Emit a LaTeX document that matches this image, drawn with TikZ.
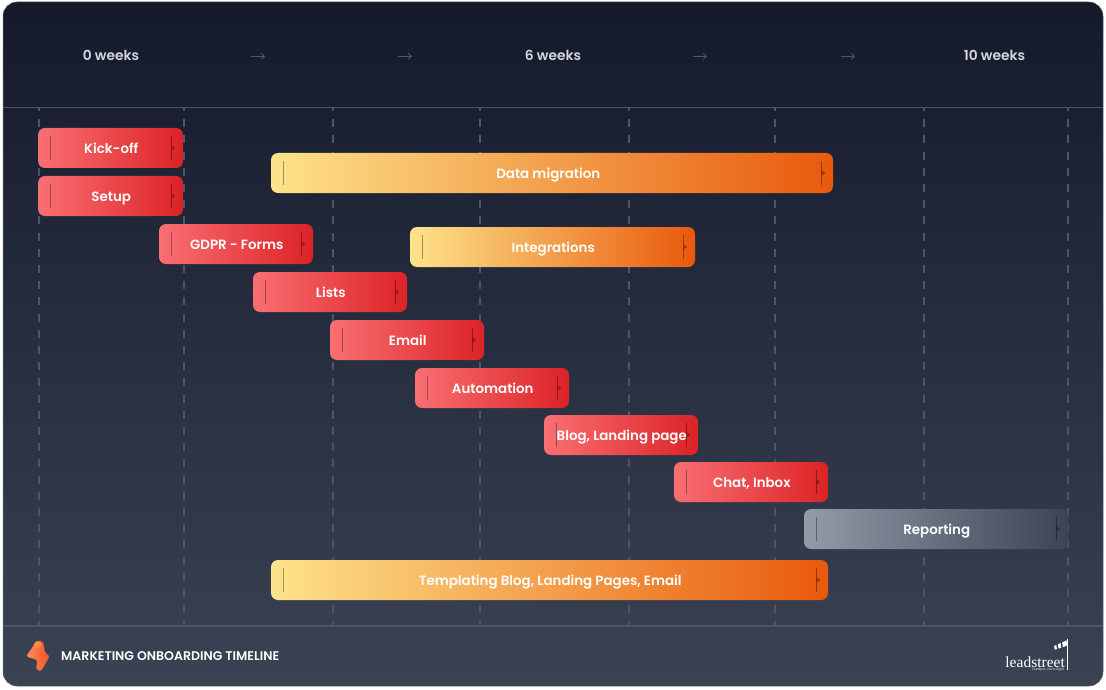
\documentclass[tikz,border=0pt]{standalone}
\usepackage{fontspec}
\usetikzlibrary{arrows.meta}
\setmainfont{Poppins}[BoldFont={Poppins SemiBold}]
\newfontfamily\brandfont{Liberation Serif}
\definecolor{cardtop}{HTML}{141A2B}
\definecolor{cardbot}{HTML}{3A4254}
\definecolor{gridcol}{HTML}{4D5669}
\definecolor{redl}{HTML}{F96F72}
\definecolor{redr}{HTML}{DC2326}
\definecolor{yell}{HTML}{FDE38A}
\definecolor{yelr}{HTML}{E9590C}
\definecolor{grayl}{HTML}{949BA8}
\definecolor{grayr}{HTML}{3B4355}
\definecolor{headcol}{HTML}{D3D6DC}
\definecolor{flashl}{HTML}{FF8E55}
\definecolor{flashr}{HTML}{F0502C}
\tikzset{
  barbox/.style={rounded corners=7pt,minimum height=40pt,inner sep=0pt,
    text height=11.5pt,text depth=0pt,
    text=white,font=\fontsize{13.4}{16}\selectfont\bfseries},
  redbar/.style={barbox,left color=redl,right color=redr},
  yelbar/.style={barbox,left color=yell,right color=yelr},
  graybar/.style={barbox,left color=grayl,right color=grayr},
  weektext/.style={text=headcol,text height=11.5pt,text depth=0pt,
    font=\fontsize{13.8}{16}\selectfont\bfseries},
  weekarrow/.style={draw=gridcol,line width=.9pt,-{Straight Barb[length=3pt,width=6pt]}},
  tickline/.style={draw=black,opacity=.35,line width=1pt}
}
\begin{document}
\begin{tikzpicture}[x=1pt,y=-1pt]
  \useasboundingbox (0,0) rectangle (1106,690);
  \fill[white] (0,0) rectangle (1106,690);
  \path[rounded corners=14pt,top color=cardtop,bottom color=cardbot,draw=black!60,line width=.5pt]
    (3,2) rectangle (1103,686);

  % grid
  \foreach \x in {39,184,333,480,629,775,924,1068} {
    \draw[gridcol,line width=1.8pt,dash pattern=on 8pt off 8.2pt,dash phase=4pt] (\x,107) -- (\x,626);
  }
  \draw[gridcol,line width=1.4pt] (3,107.5) -- (1103,107.5);
  \draw[gridcol,line width=1.4pt] (3,626) -- (1103,626);

  % header
  \node[weektext] (week0) at (111,55) {0 weeks};
  \node[weektext] (week6) at (553,55) {6 weeks};
  \node[weektext] (week10) at (994.5,55) {10 weeks};
  \foreach \x in {258,405,700,848} {
    \draw[weekarrow] (\x-7.5,56.3) -- (\x+7,56.3);
  }

  % bars: name/left/top/width/style/text
  \foreach \n/\l/\t/\w/\s/\lab in {
    kickoff/38/128/145/redbar/Kick-off,
    setup/38/176/145/redbar/Setup,
    gdpr/159/224/154/redbar/GDPR - Forms,
    lists/253/272/154/redbar/Lists,
    email/330/320/154/redbar/Email,
    automation/415/368/154/redbar/Automation,
    blog/544/415/154/redbar/{Blog, Landing page},
    chat/674/462/154/redbar/{Chat, Inbox},
    data/271/153/562/yelbar/{Data migration\hspace*{9pt}},
    integrations/410/227/285/yelbar/Integrations,
    templating/271/560/557/yelbar/{Templating Blog, Landing Pages, Email},
    reporting/804/509/264/graybar/Reporting} {
    \node[\s,minimum width=\w pt] (\n) at (\l+\w/2,\t+20) {\hspace*{1.5pt}\lab};
    \draw[tickline] ([xshift=12.5pt,yshift=-12pt]\n.west) -- ([xshift=12.5pt,yshift=12pt]\n.west);
    \draw[tickline] ([xshift=-11.7pt,yshift=-12pt]\n.east) -- ([xshift=-11.7pt,yshift=12pt]\n.east);
    \fill[black!70!red,opacity=.4] ([xshift=-11.7pt,yshift=-2.8pt]\n.east) -- ([xshift=-7.8pt]\n.east)
      -- ([xshift=-11.7pt,yshift=2.8pt]\n.east) -- cycle;
  }

  % footer
  \path[left color=flashl,right color=flashr,rounded corners=2.5pt]
    (37,640.5) -- (43,641.5) -- (45,653) -- (50,656) -- (41,671.5) -- (36,669.5) -- (37.5,660)
    -- (26,656.5) -- cycle;
  \fill[flashl!70!orange] (37.5,644.8) circle (3.6);
  \node[anchor=west,inner sep=0pt,text=white,font=\fontsize{12.55}{14}\selectfont\bfseries] (title) at (61,656)
    {MARKETING ONBOARDING TIMELINE};

  % logo
  \node[anchor=east,text=white,inner sep=0pt,font=\fontsize{15.5}{18}\selectfont\brandfont] (brand) at (1065,662)
    {leadstreet};
  \node[anchor=east,text=white!85!gray,inner sep=0pt,font=\fontsize{3.1}{4}\selectfont] (slogan) at (1065,670)
    {HubSpot. Done Right.};
  \draw[white,line width=.7pt] (1067.5,639) -- (1067.5,670);
  \fill[white] (1054,646.2) -- (1056.2,645) -- (1057,649) -- (1054.8,649.6) -- cycle;
  \fill[white] (1057.8,644.4) -- (1060.5,643) -- (1061.3,647.6) -- (1058.6,648.6) -- cycle;
  \fill[white] (1062.2,642.4) -- (1066.6,640.2) -- (1067,645.4) -- (1063,647.2) -- cycle;
\end{tikzpicture}
\end{document}
